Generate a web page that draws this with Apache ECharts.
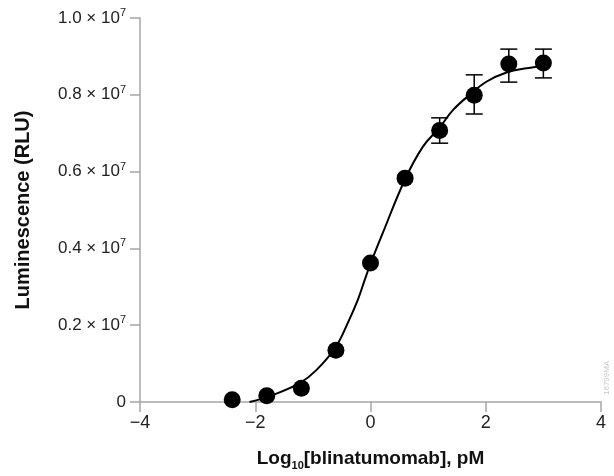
<!DOCTYPE html>
<html>
<head>
<meta charset="utf-8">
<script src="https://cdn.jsdelivr.net/npm/echarts@6/dist/echarts.min.js"></script>
<style>
  html, body { margin: 0; padding: 0; background: #fff; }
  #chart { width: 614px; height: 476px; }
</style>
</head>
<body>
<div id="chart"></div>
<script>
// 측정값 (log10 농도, RLU)
const logDose = [-2.4, -1.8, -1.2, -0.6, 0, 0.6, 1.2, 1.8, 2.4, 3.0];
const rlu     = [0.06e6, 0.16e6, 0.36e6, 1.35e6, 3.62e6, 5.83e6, 7.07e6, 7.99e6, 8.80e6, 8.83e6];
// 오차막대 (아래, 위)
const errLow  = [null, null, null, null, null, null, 6.74e6, 7.50e6, 8.33e6, 8.44e6];
const errHigh = [null, null, null, null, null, null, 7.40e6, 8.52e6, 9.19e6, 9.19e6];
// 그림에서 읽은 피팅 곡선
const fitX = [-2.1, -1.7, -1.23, -0.94, -0.6, -0.37, -0.22, -0.1, 0.0, 0.21, 0.6, 0.91, 1.2, 1.43, 1.72, 2.01, 2.36, 2.71, 3.03];
const fitY = [0.0, 0.18e6, 0.49e6, 0.83e6, 1.44e6, 2.14e6, 2.66e6, 3.18e6, 3.6e6, 4.39e6, 5.8e6, 6.65e6, 7.15e6, 7.6e6, 8.0e6, 8.34e6, 8.58e6, 8.69e6, 8.75e6];

const FONT = "'Liberation Sans', Arial, sans-serif";
const AXIS_GREY = '#a6a6a6';

const chart = echarts.init(document.getElementById('chart'));

const points = logDose.map((x, i) => [x, rlu[i]]);
const bars = logDose.map((x, i) => [x, errLow[i], errHigh[i]]).filter(d => d[1] != null);
const curve = fitX.map((x, i) => [x, fitY[i]]);

chart.setOption({
  animation: false,
  grid: { left: 140, right: 13, top: 18, bottom: 74 },
  xAxis: {
    type: 'value', min: -4, max: 4, interval: 2,
    name: 'Log{sub|10}[blinatumomab], pM',
    nameLocation: 'middle', nameGap: 44,
    nameTextStyle: {
      fontFamily: FONT, fontWeight: 'bold', fontSize: 19, color: '#111',
      rich: { sub: { fontFamily: FONT, fontWeight: 'bold', fontSize: 11, color: '#111', padding: [14, 0, 0, 0] } }
    },
    axisLine: { show: true, onZero: false, lineStyle: { color: AXIS_GREY, width: 1.5 } },
    axisTick: { show: true, length: 10, lineStyle: { color: AXIS_GREY, width: 1.5 } },
    splitLine: { show: false },
    axisLabel: {
      fontFamily: FONT, fontSize: 18, color: '#222', margin: 12,
      formatter: v => (v < 0 ? '\u2212' + Math.abs(v) : String(v))
    }
  },
  yAxis: {
    type: 'value', min: 0, max: 1e7, interval: 2e6,
    name: 'Luminescence (RLU)',
    nameLocation: 'middle', nameGap: 107,
    nameTextStyle: { fontFamily: FONT, fontWeight: 'bold', fontSize: 20, color: '#111' },
    axisLine: { show: true, onZero: false, lineStyle: { color: AXIS_GREY, width: 1.5 } },
    axisTick: { show: true, length: 10, lineStyle: { color: AXIS_GREY, width: 1.5 } },
    splitLine: { show: false },
    axisLabel: {
      fontFamily: FONT, fontSize: 17, color: '#222', margin: 14,
      formatter: v => v === 0 ? '0' : '{a|' + (v / 1e7).toFixed(1) + ' \u00d7 10}{s|7}',
      rich: {
        a: { fontFamily: FONT, fontSize: 17, color: '#222' },
        s: { fontFamily: FONT, fontSize: 11, color: '#222', padding: [0, 0, 10, 0] }
      }
    }
  },
  series: [
    {
      type: 'line', data: curve, smooth: 0.4, showSymbol: false, z: 2,
      lineStyle: { color: '#000', width: 2 }
    },
    {
      type: 'custom', z: 3,
      data: bars,
      renderItem: (params, api) => {
        const x = api.value(0);
        const lo = api.coord([x, api.value(1)]);
        const hi = api.coord([x, api.value(2)]);
        const w = 8.5;
        const style = { stroke: '#000', lineWidth: 1.5 };
        return {
          type: 'group',
          children: [
            { type: 'line', shape: { x1: lo[0], y1: lo[1], x2: hi[0], y2: hi[1] }, style },
            { type: 'line', shape: { x1: lo[0] - w, y1: lo[1], x2: lo[0] + w, y2: lo[1] }, style },
            { type: 'line', shape: { x1: hi[0] - w, y1: hi[1], x2: hi[0] + w, y2: hi[1] }, style }
          ]
        };
      }
    },
    {
      type: 'scatter', data: points, symbol: 'circle', symbolSize: 17, z: 4,
      itemStyle: { color: '#000', opacity: 1 }
    }
  ],
  graphic: [{
    type: 'text', x: 603, y: 395, rotation: Math.PI / 2,
    style: { text: '16799MA', fontFamily: FONT, fontSize: 8, fill: '#c8c8c8' }
  }]
});
</script>
</body>
</html>
